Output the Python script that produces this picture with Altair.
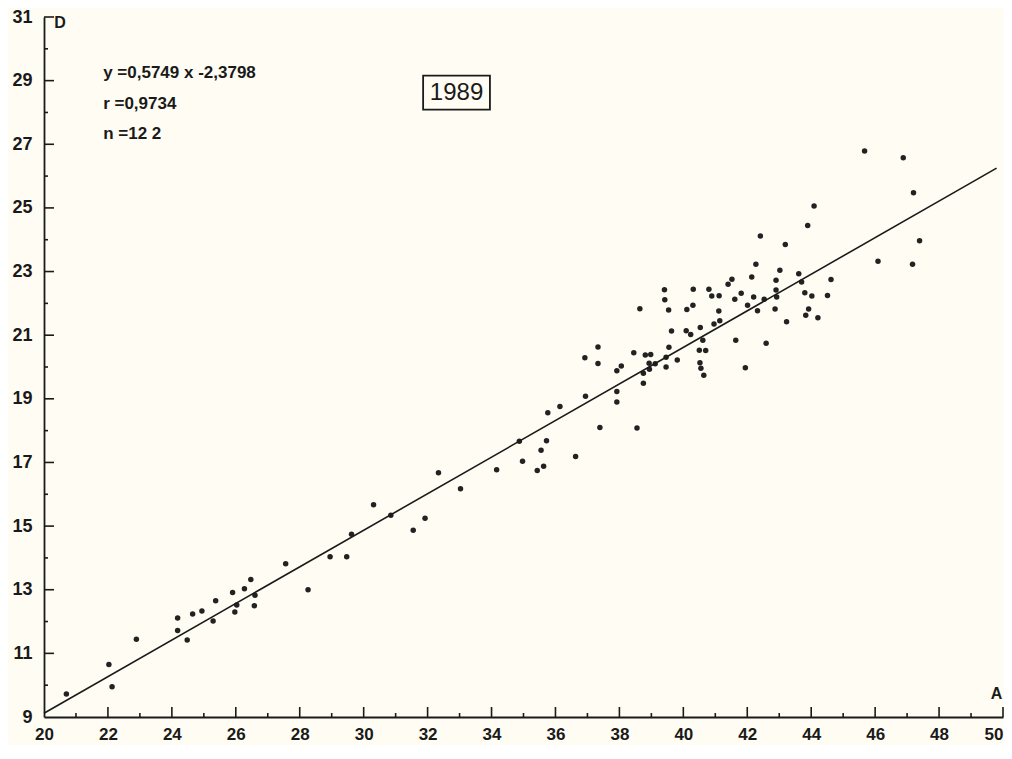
import altair as alt
import pandas as pd

A_vals = [20.70, 22.03, 22.13, 22.89, 24.18, 24.18, 24.48, 24.65, 24.94, 25.29,
          25.37, 25.90, 25.97, 26.03, 26.27, 26.47, 26.58, 26.60, 27.56, 28.26,
          28.95, 29.47,
          29.62, 30.31, 30.85, 31.55, 31.92, 32.34, 33.03, 34.16, 34.87, 34.97,
          35.43, 35.55, 35.63, 35.72, 36.63, 37.39,
          35.76, 36.14, 36.94, 36.92, 37.33, 37.33, 37.92, 38.06, 37.92, 37.92,
          38.55, 38.45, 38.75, 38.75, 38.81, 38.98, 38.93, 38.94, 39.12, 39.63,
          39.55, 39.46, 39.46, 39.81, 40.09, 40.23, 40.53, 40.61, 40.50, 40.70,
          40.52, 40.55, 40.64, 40.96, 41.14, 41.64, 41.94,
          38.64, 39.41, 39.42, 39.54, 40.11, 40.30, 40.31, 40.80, 40.89, 41.12,
          41.11, 41.40, 41.52, 41.81, 41.61, 42.01, 42.32, 42.14, 42.27, 42.20,
          42.53, 42.59, 42.41, 42.90, 43.02, 42.90, 42.92, 42.87, 43.19, 43.23,
          43.61, 43.70, 43.80, 44.02, 43.92, 43.83, 44.21, 44.51, 44.62,
          46.88, 47.20, 47.39, 47.17, 46.09, 45.67, 44.09, 43.89]
D_vals = [9.72, 10.65, 9.95, 11.44, 12.11, 11.72, 11.42, 12.24, 12.33, 12.02,
          12.65, 12.91, 12.30, 12.52, 13.03, 13.32, 12.50, 12.83, 13.82, 13.00,
          14.04, 14.04,
          14.74, 15.67, 15.34, 14.87, 15.25, 16.68, 16.17, 16.77, 17.67, 17.04,
          16.75, 17.38, 16.88, 17.68, 17.19, 18.10,
          18.56, 18.76, 19.08, 20.29, 20.63, 20.11, 19.88, 20.03, 19.23, 18.90,
          18.08, 20.45, 19.49, 19.80, 20.38, 20.39, 20.12, 19.93, 20.10, 21.13,
          20.62, 20.31, 20.00, 20.22, 21.14, 21.02, 21.24, 20.84, 20.53, 20.52,
          20.13, 19.96, 19.74, 21.35, 21.45, 20.84, 19.98,
          21.83, 22.43, 22.11, 21.79, 21.81, 21.94, 22.44, 22.44, 22.23, 22.24,
          21.76, 22.60, 22.76, 22.32, 22.13, 21.94, 21.77, 22.83, 23.23, 22.20,
          22.13, 20.75, 24.12, 22.73, 23.04, 22.42, 22.20, 21.82, 23.85, 21.42,
          22.93, 22.67, 22.33, 22.23, 21.82, 21.63, 21.55, 22.25, 22.75,
          26.58, 25.48, 23.97, 23.23, 23.32, 26.79, 25.06, 24.45]

# Regression line endpoints (y = 0.5749x - 2.3798)
line_A = [20.0, 49.8]
line_D = [9.12, 26.25]

x_major = [22, 24, 26, 28, 30, 32, 34, 36, 38, 40, 42, 44, 46, 48, 50]
x_minor = [21, 23, 25, 27, 29, 31, 33, 35, 37, 39, 41, 43, 45, 47, 49]
y_major = [11, 13, 15, 17, 19, 21, 23, 25, 27, 29, 31]
y_minor = [10, 12, 14, 16, 18, 20, 22, 24, 26, 28, 30]
x_labels = [20, 22, 24, 26, 28, 30, 32, 34, 36, 38, 40, 42, 44, 46, 48, 50]
y_labels = [9, 11, 13, 15, 17, 19, 21, 23, 25, 27, 29, 31]

stats_lines = ["y =0,5749 x -2,3798", "r =0,9734", "n =12 2"]
stats_D = [29.25, 28.28, 27.31]

FONT = "Liberation Sans"
INK = "#1a1a1a"

pts = pd.DataFrame({"A": A_vals, "D": D_vals})
line_df = pd.DataFrame({"A": line_A, "D": line_D})

xscale = alt.Scale(domain=[20, 50], nice=False, zero=False)
yscale = alt.Scale(domain=[9, 31], nice=False, zero=False)

points = alt.Chart(pts).mark_circle(size=30, color="#222222", opacity=1).encode(
    x=alt.X("A:Q", scale=xscale, title=None,
            axis=alt.Axis(values=x_labels, tickSize=0, grid=False, domainColor=INK,
                          domainWidth=1.8, labelFont=FONT, labelFontSize=17,
                          labelFontWeight="bold", labelColor=INK, labelPadding=9,
                          format="d", labelFlush=False,
                          labelAlign=alt.condition("datum.value == 50",
                                                   alt.value("right"), alt.value("center")))),
    y=alt.Y("D:Q", scale=yscale, title=None,
            axis=alt.Axis(values=y_labels, tickSize=0, grid=False, domainColor=INK,
                          domainWidth=1.8, labelFont=FONT, labelFontSize=18,
                          labelFontWeight="bold", labelColor=INK, labelPadding=12,
                          format="d", labelFlush=False)),
)

reg = alt.Chart(line_df).mark_line(color=INK, strokeWidth=1.6).encode(
    x="A:Q", y="D:Q")

xmaj = alt.Chart(pd.DataFrame({"A": x_major})).mark_tick(
    orient="vertical", size=10, thickness=1.6, yOffset=-5, color=INK, opacity=1
).encode(x="A:Q", y=alt.datum(9))
xmin = alt.Chart(pd.DataFrame({"A": x_minor})).mark_tick(
    orient="vertical", size=4, thickness=1.6, yOffset=-2, color=INK, opacity=1
).encode(x="A:Q", y=alt.datum(9))
ymaj = alt.Chart(pd.DataFrame({"D": y_major})).mark_tick(
    orient="horizontal", size=10, thickness=1.6, xOffset=5, color=INK, opacity=1
).encode(y="D:Q", x=alt.datum(20))
ymin = alt.Chart(pd.DataFrame({"D": y_minor})).mark_tick(
    orient="horizontal", size=4, thickness=1.6, xOffset=2, color=INK, opacity=1
).encode(y="D:Q", x=alt.datum(20))

stats = alt.Chart(pd.DataFrame({"t": stats_lines, "D": stats_D})).mark_text(
    align="left", baseline="middle", font=FONT, fontSize=17, fontWeight="bold", color=INK
).encode(x=alt.datum(21.85), y="D:Q", text="t:N")

box = alt.Chart(pd.DataFrame({"k": [0]})).mark_rect(
    fill=None, stroke=INK, strokeWidth=1.8
).encode(x=alt.datum(31.86), x2=alt.datum(33.95), y=alt.datum(28.09), y2=alt.datum(29.16))

year = alt.Chart(pd.DataFrame({"t": ["1989"]})).mark_text(
    align="center", baseline="middle", font=FONT, fontSize=24, color=INK
).encode(x=alt.datum(32.905), y=alt.datum(28.62), text="t:N")

d_lab = alt.Chart(pd.DataFrame({"t": ["D"]})).mark_text(
    align="center", baseline="middle", font=FONT, fontSize=16, fontWeight="bold", color=INK
).encode(x=alt.datum(20.5), y=alt.datum(30.81), text="t:N")

a_lab = alt.Chart(pd.DataFrame({"t": ["A"]})).mark_text(
    align="center", baseline="middle", font=FONT, fontSize=16, fontWeight="bold", color=INK
).encode(x=alt.datum(49.8), y=alt.datum(9.72), text="t:N")

chart = alt.layer(points, reg, xmaj, xmin, ymaj, ymin, stats, box, year, d_lab, a_lab).properties(
    width=959, height=700,
    autosize=alt.AutoSizeParams(type="none"),
    padding={"left": 36, "top": 9, "right": 1, "bottom": 28},
    background="#fffdf3",
).configure_view(stroke=None)

chart.save("out.html", embed_options={"renderer": "svg", "actions": False})
